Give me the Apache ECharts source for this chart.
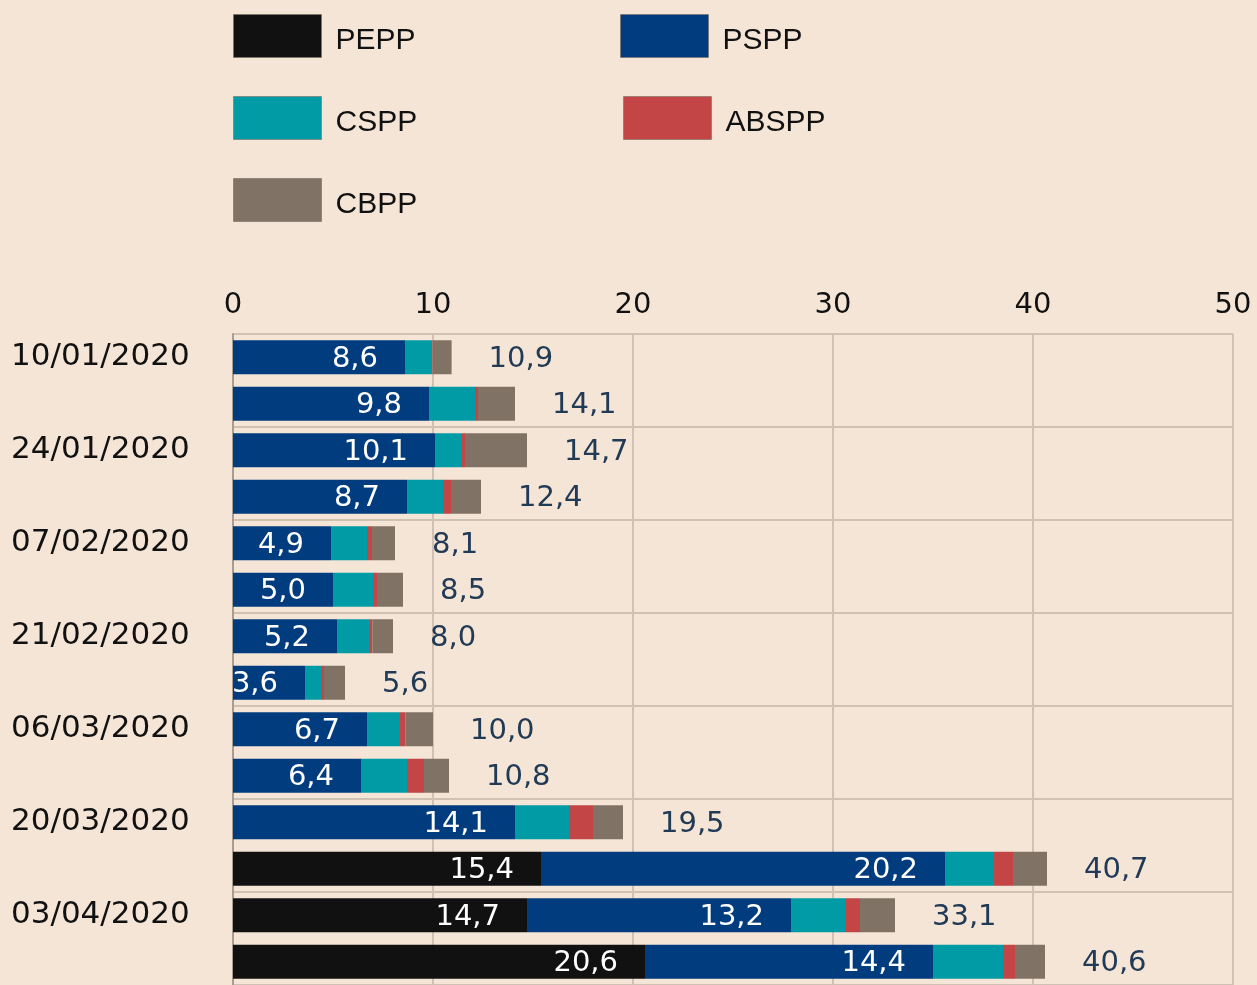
<!DOCTYPE html>
<html>
<head>
<meta charset="utf-8">
<script src="https://cdn.jsdelivr.net/npm/echarts@6/dist/echarts.min.js"></script>
<style>
html,body{margin:0;padding:0;background:#f5e5d6;}
#chart{width:1257px;height:985px;}
</style>
</head>
<body>
<div id="chart"></div>
<script>
const categories = ['10/01/2020','17/01/2020','24/01/2020','31/01/2020','07/02/2020','14/02/2020','21/02/2020','28/02/2020','06/03/2020','13/03/2020','20/03/2020','27/03/2020','03/04/2020','10/04/2020'];
const seriesNames = ['PEPP','PSPP','CSPP','ABSPP','CBPP'];
const pepp  = [0,0,0,0,0,0,0,0,0,0,0,15.4,14.7,20.6];
const pspp  = [8.6,9.8,10.1,8.7,4.9,5.0,5.2,3.6,6.7,6.4,14.1,20.2,13.2,14.4];
const cspp  = [1.35,2.3,1.35,1.8,1.8,2.05,1.65,0.8,1.65,2.3,2.7,2.45,2.75,3.5];
const abspp = [0.03,0.15,0.15,0.4,0.25,0.15,0.12,0.15,0.28,0.85,1.2,0.95,0.7,0.6];
const cbpp  = [0.95,1.85,3.1,1.5,1.15,1.3,1.03,1.05,1.37,1.25,1.5,1.7,1.75,1.5];
const totals = [10.9,14.1,14.7,12.4,8.1,8.5,8.0,5.6,10.0,10.8,19.5,40.7,33.1,40.6];
const xTicks = [0,10,20,30,40,50];

const colors = {PEPP:'#111111', PSPP:'#013c7f', CSPP:'#009ba5', ABSPP:'#c34546', CBPP:'#807365'};
const fmt = v => v.toFixed(1).replace('.', ',');
const FONT = 'DejaVu Sans';

const insideLabel = {
  show: true, position: 'insideRight', distance: 27, offset: [0, 2],
  color: '#ffffff', fontFamily: FONT, fontSize: 29,
  formatter: p => (p.value ? fmt(p.value) : '')
};

const legendPos = [
  {name:'PEPP', left:233, top:14},
  {name:'PSPP', left:620, top:14},
  {name:'CSPP', left:233, top:96},
  {name:'ABSPP', left:623, top:96},
  {name:'CBPP', left:233, top:178}
];

const chart = echarts.init(document.getElementById('chart'));
chart.setOption({
  backgroundColor: '#f5e5d6',
  animation: false,
  legend: legendPos.map(l => ({
    data: [{name: l.name, icon: 'rect'}], left: l.left, top: l.top, padding: 0,
    itemWidth: 88, itemHeight: 43,
    itemStyle: {borderColor: 'rgba(120,110,100,0.6)', borderWidth: 1},
    formatter: n => '{t|' + n + '}',
    textStyle: {
      fontFamily: 'Liberation Sans', fontSize: 30, color: '#111111',
      rich: {t: {fontFamily: 'Liberation Sans', fontSize: 30, color: '#111111', lineHeight: 30, padding: [9, 0, 0, 9]}}
    },
    selectedMode: false
  })),
  grid: {left: 233, right: 24, top: 334, height: 654},
  xAxis: {
    type: 'value', position: 'top', min: 0, max: 50, interval: 10,
    axisLine: {show: false}, axisTick: {show: false},
    axisLabel: {color: '#111111', fontFamily: FONT, fontSize: 29, margin: 14,
      formatter: v => xTicks.includes(v) ? String(v) : ''},
    splitLine: {show: true, lineStyle: {color: '#cfc2b5', width: 2}}
  },
  yAxis: {
    type: 'category', data: categories, inverse: true,
    axisLine: {show: true, lineStyle: {color: '#a79d93', width: 2}},
    axisTick: {show: false},
    axisLabel: {interval: 1, align: 'left', margin: 222, color: '#111111', fontFamily: FONT, fontSize: 31},
    splitLine: {show: true, interval: 1, lineStyle: {color: '#cfc2b5', width: 2}}
  },
  series: [
    {name:'PEPP', type:'bar', stack:'t', barWidth:34, data: pepp, itemStyle:{color:colors.PEPP}, label: insideLabel},
    {name:'PSPP', type:'bar', stack:'t', barWidth:34, data: pspp, itemStyle:{color:colors.PSPP}, label: insideLabel},
    {name:'CSPP', type:'bar', stack:'t', barWidth:34, data: cspp, itemStyle:{color:colors.CSPP}},
    {name:'ABSPP', type:'bar', stack:'t', barWidth:34, data: abspp, itemStyle:{color:colors.ABSPP}},
    {name:'CBPP', type:'bar', stack:'t', barWidth:34, data: cbpp, itemStyle:{color:colors.CBPP},
      label: {show: true, position: 'right', distance: 37, offset: [0, 2], color: '#213a55',
        fontFamily: FONT, fontSize: 29, formatter: p => fmt(totals[p.dataIndex])}}
  ]
});
</script>
</body>
</html>
